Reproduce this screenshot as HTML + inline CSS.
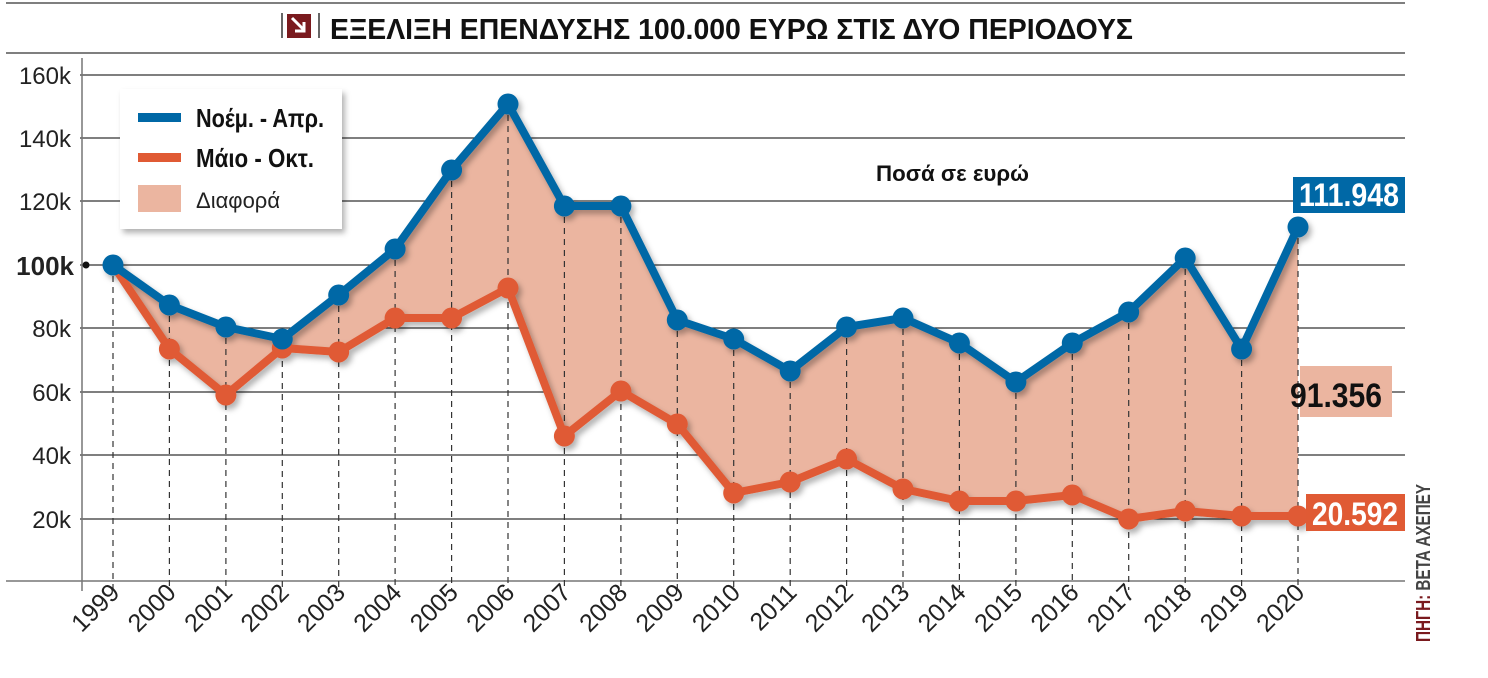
<!DOCTYPE html>
<html><head><meta charset="utf-8"><style>
body{margin:0;background:#fff}
svg{display:block;font-family:"Liberation Sans",sans-serif}
</style></head><body>
<svg width="1488" height="678" viewBox="0 0 1488 678" xmlns="http://www.w3.org/2000/svg">
<defs><filter id="sh" x="-10%" y="-10%" width="130%" height="130%"><feDropShadow dx="3" dy="4" stdDeviation="3" flood-color="#000" flood-opacity="0.3"/></filter></defs>
<line x1="6" y1="3" x2="1405" y2="3" stroke="#555" stroke-width="1.5"/>
<line x1="6" y1="53" x2="1405" y2="53" stroke="#555" stroke-width="1.5"/>
<line x1="282" y1="13" x2="282" y2="38" stroke="#333" stroke-width="1.5"/>
<rect x="287" y="14" width="24" height="24" fill="#7a1a1e"/>
<path d="M292 18 L304 30 M304 22 L304 31 L295 31" stroke="#fff" stroke-width="3" fill="none"/>
<line x1="319" y1="13" x2="319" y2="38" stroke="#333" stroke-width="1.5"/>
<text x="330" y="39" font-size="29" font-weight="bold" fill="#111" textLength="803" lengthAdjust="spacingAndGlyphs">ΕΞΕΛΙΞΗ ΕΠΕΝΔΥΣΗΣ 100.000 ΕΥΡΩ ΣΤΙΣ ΔΥΟ ΠΕΡΙΟΔΟΥΣ</text>
<g stroke="#333" stroke-width="1.3">
<line x1="80" y1="75" x2="1405" y2="75"/><line x1="80" y1="138" x2="1405" y2="138"/>
<line x1="80" y1="201" x2="1405" y2="201"/><line x1="80" y1="265" x2="1405" y2="265"/>
<line x1="80" y1="328" x2="1405" y2="328"/><line x1="80" y1="392" x2="1405" y2="392"/>
<line x1="80" y1="455" x2="1405" y2="455"/><line x1="80" y1="519" x2="1405" y2="519"/>
</g>
<line x1="6" y1="581" x2="1405" y2="581" stroke="#777" stroke-width="1.5"/>
<line x1="82" y1="58" x2="82" y2="591" stroke="#777" stroke-width="1.5"/>
<g font-size="24" fill="#222" text-anchor="end">
<text x="71" y="84">160k</text><text x="71" y="147">140k</text><text x="71" y="210">120k</text>
<text x="71" y="337">80k</text><text x="71" y="401">60k</text><text x="71" y="464">40k</text><text x="71" y="528">20k</text>
<text x="74" y="275" font-weight="bold" font-size="26">100k</text>
</g>
<circle cx="86" cy="265" r="3.5" fill="#111"/>
<polygon fill="#ebb5a0" points="113,265 169.4,305 225.9,327 282.3,339 338.7,295 395.1,249 451.6,170 508,104 564.4,206 620.9,206 677.3,320 733.7,339 790.2,371 846.6,327 903,318 959.4,343 1015.9,382 1072.3,343 1128.7,312 1185.2,258 1241.6,349 1298,227 1298,516 1241.6,516 1185.2,511 1128.7,519 1072.3,495 1015.9,501 959.4,501 903,489 846.6,459 790.2,482 733.7,493 677.3,424 620.9,391 564.4,436 508,288 451.6,318 395.1,318 338.7,352 282.3,348 225.9,395 169.4,349"/>
<g stroke="#333" stroke-width="1.2" stroke-dasharray="6,5">
<line x1="113" y1="265" x2="113" y2="590"/><line x1="169.4" y1="305" x2="169.4" y2="590"/><line x1="225.9" y1="327" x2="225.9" y2="590"/><line x1="282.3" y1="339" x2="282.3" y2="590"/><line x1="338.7" y1="295" x2="338.7" y2="590"/><line x1="395.1" y1="249" x2="395.1" y2="590"/><line x1="451.6" y1="170" x2="451.6" y2="590"/><line x1="508" y1="104" x2="508" y2="590"/><line x1="564.4" y1="206" x2="564.4" y2="590"/><line x1="620.9" y1="206" x2="620.9" y2="590"/><line x1="677.3" y1="320" x2="677.3" y2="590"/><line x1="733.7" y1="339" x2="733.7" y2="590"/><line x1="790.2" y1="371" x2="790.2" y2="590"/><line x1="846.6" y1="327" x2="846.6" y2="590"/><line x1="903" y1="318" x2="903" y2="590"/><line x1="959.4" y1="343" x2="959.4" y2="590"/><line x1="1015.9" y1="382" x2="1015.9" y2="590"/><line x1="1072.3" y1="343" x2="1072.3" y2="590"/><line x1="1128.7" y1="312" x2="1128.7" y2="590"/><line x1="1185.2" y1="258" x2="1185.2" y2="590"/><line x1="1241.6" y1="349" x2="1241.6" y2="590"/><line x1="1298" y1="227" x2="1298" y2="590"/>
</g>
<g filter="url(#sh)">
<polyline fill="none" stroke="#e05a34" stroke-width="8" stroke-linejoin="round" points="113,265 169.4,349 225.9,395 282.3,348 338.7,352 395.1,318 451.6,318 508,288 564.4,436 620.9,391 677.3,424 733.7,493 790.2,482 846.6,459 903,489 959.4,501 1015.9,501 1072.3,495 1128.7,519 1185.2,511 1241.6,516 1298,516"/>
<g fill="#e05a34"><circle cx="169.4" cy="349" r="10.5"/><circle cx="225.9" cy="395" r="10.5"/><circle cx="282.3" cy="348" r="10.5"/><circle cx="338.7" cy="352" r="10.5"/><circle cx="395.1" cy="318" r="10.5"/><circle cx="451.6" cy="318" r="10.5"/><circle cx="508" cy="288" r="10.5"/><circle cx="564.4" cy="436" r="10.5"/><circle cx="620.9" cy="391" r="10.5"/><circle cx="677.3" cy="424" r="10.5"/><circle cx="733.7" cy="493" r="10.5"/><circle cx="790.2" cy="482" r="10.5"/><circle cx="846.6" cy="459" r="10.5"/><circle cx="903" cy="489" r="10.5"/><circle cx="959.4" cy="501" r="10.5"/><circle cx="1015.9" cy="501" r="10.5"/><circle cx="1072.3" cy="495" r="10.5"/><circle cx="1128.7" cy="519" r="10.5"/><circle cx="1185.2" cy="511" r="10.5"/><circle cx="1241.6" cy="516" r="10.5"/><circle cx="1298" cy="516" r="10.5"/></g>
<polyline fill="none" stroke="#0068a6" stroke-width="8" stroke-linejoin="round" points="113,265 169.4,305 225.9,327 282.3,339 338.7,295 395.1,249 451.6,170 508,104 564.4,206 620.9,206 677.3,320 733.7,339 790.2,371 846.6,327 903,318 959.4,343 1015.9,382 1072.3,343 1128.7,312 1185.2,258 1241.6,349 1298,227"/>
<g fill="#0068a6"><circle cx="113" cy="265" r="10.5"/><circle cx="169.4" cy="305" r="10.5"/><circle cx="225.9" cy="327" r="10.5"/><circle cx="282.3" cy="339" r="10.5"/><circle cx="338.7" cy="295" r="10.5"/><circle cx="395.1" cy="249" r="10.5"/><circle cx="451.6" cy="170" r="10.5"/><circle cx="508" cy="104" r="10.5"/><circle cx="564.4" cy="206" r="10.5"/><circle cx="620.9" cy="206" r="10.5"/><circle cx="677.3" cy="320" r="10.5"/><circle cx="733.7" cy="339" r="10.5"/><circle cx="790.2" cy="371" r="10.5"/><circle cx="846.6" cy="327" r="10.5"/><circle cx="903" cy="318" r="10.5"/><circle cx="959.4" cy="343" r="10.5"/><circle cx="1015.9" cy="382" r="10.5"/><circle cx="1072.3" cy="343" r="10.5"/><circle cx="1128.7" cy="312" r="10.5"/><circle cx="1185.2" cy="258" r="10.5"/><circle cx="1241.6" cy="349" r="10.5"/><circle cx="1298" cy="227" r="10.5"/></g>
</g>
<rect x="120" y="89" width="222" height="140" fill="#fff" filter="url(#sh)"/>
<rect x="138" y="113" width="43" height="9" fill="#0068a6"/>
<rect x="138" y="153" width="43" height="9" fill="#e05a34"/>
<rect x="138" y="185" width="43" height="27" fill="#ebb5a0"/>
<text x="196" y="127" font-size="26" font-weight="bold" fill="#111" textLength="128" lengthAdjust="spacingAndGlyphs">Νοέμ. - Απρ.</text>
<text x="196" y="167" font-size="26" font-weight="bold" fill="#111" textLength="118" lengthAdjust="spacingAndGlyphs">Μάιο - Οκτ.</text>
<text x="196" y="208" font-size="22" fill="#222">Διαφορά</text>
<text x="876" y="181" font-size="22" font-weight="bold" fill="#111" textLength="153" lengthAdjust="spacingAndGlyphs">Ποσά σε ευρώ</text>
<rect x="1293" y="177" width="112" height="36" fill="#0068a6"/>
<text x="1349" y="206" font-size="32" font-weight="bold" fill="#fff" text-anchor="middle" textLength="100" lengthAdjust="spacingAndGlyphs">111.948</text>
<rect x="1300" y="366" width="92" height="51" fill="#ebb5a0"/>
<text x="1336" y="407" font-size="34" font-weight="bold" fill="#111" text-anchor="middle" textLength="92" lengthAdjust="spacingAndGlyphs">91.356</text>
<rect x="1306" y="494" width="99" height="37" fill="#e05a34"/>
<text x="1355" y="525" font-size="32" font-weight="bold" fill="#fff" text-anchor="middle" textLength="86" lengthAdjust="spacingAndGlyphs">20.592</text>
<g font-size="25" fill="#222" text-anchor="end">
<text transform="translate(121,594) rotate(-45)">1999</text><text transform="translate(177.4,594) rotate(-45)">2000</text><text transform="translate(233.9,594) rotate(-45)">2001</text><text transform="translate(290.3,594) rotate(-45)">2002</text><text transform="translate(346.7,594) rotate(-45)">2003</text><text transform="translate(403.1,594) rotate(-45)">2004</text><text transform="translate(459.6,594) rotate(-45)">2005</text><text transform="translate(516,594) rotate(-45)">2006</text><text transform="translate(572.4,594) rotate(-45)">2007</text><text transform="translate(628.9,594) rotate(-45)">2008</text><text transform="translate(685.3,594) rotate(-45)">2009</text><text transform="translate(741.7,594) rotate(-45)">2010</text><text transform="translate(798.2,594) rotate(-45)">2011</text><text transform="translate(854.6,594) rotate(-45)">2012</text><text transform="translate(911,594) rotate(-45)">2013</text><text transform="translate(967.4,594) rotate(-45)">2014</text><text transform="translate(1023.9,594) rotate(-45)">2015</text><text transform="translate(1080.3,594) rotate(-45)">2016</text><text transform="translate(1136.7,594) rotate(-45)">2017</text><text transform="translate(1193.2,594) rotate(-45)">2018</text><text transform="translate(1249.6,594) rotate(-45)">2019</text><text transform="translate(1306,594) rotate(-45)">2020</text>
</g>
<text transform="translate(1430,642) rotate(-90)" font-size="20" font-weight="bold" textLength="158" lengthAdjust="spacingAndGlyphs"><tspan fill="#7a1a1e">ΠΗΓΗ: </tspan><tspan fill="#444">ΒΕΤΑ ΑΧΕΠΕΥ</tspan></text>
</svg>
</body></html>
